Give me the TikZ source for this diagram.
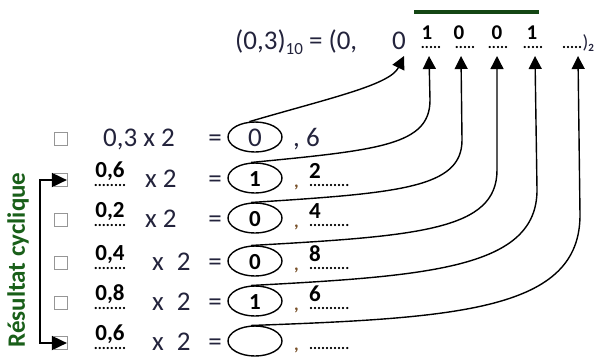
\documentclass[tikz,border=0pt]{standalone}
\usepackage{fontspec}
\setmainfont{Carlito}
\usetikzlibrary{arrows.meta,shapes.geometric}
\definecolor{ink}{RGB}{35,35,60}
\definecolor{dgreen}{RGB}{25,95,25}
\definecolor{bargreen}{RGB}{20,70,20}
\definecolor{boxgray}{RGB}{150,150,150}
\definecolor{commabrown}{RGB}{120,80,40}
\tikzset{
  txt/.style={inner sep=0pt, font=\fontsize{27}{29}\selectfont, text=ink},
  bnum/.style={inner sep=0pt, font=\fontsize{23}{24}\selectfont\bfseries, text=black},
  tnum/.style={inner sep=0pt, font=\fontsize{21}{22}\selectfont\bfseries, text=black},
  dotline/.style={inner sep=0pt, font=\fontsize{15}{16}\selectfont\bfseries, text=black},
  oval/.style={ellipse, draw=black, line width=1.4pt, minimum width=54pt, minimum height=30pt, inner sep=0pt},
  cbox/.style={draw=boxgray, line width=0.8pt, minimum size=13pt, inner sep=0pt},
  link/.style={draw=black, line width=1.4pt, -{Triangle[length=13pt,width=13pt]}},
  bracket/.style={draw=black, line width=1.8pt, {Triangle[length=15pt,width=14pt]}-{Triangle[length=15pt,width=14pt]}},
}
\begin{document}
\begin{tikzpicture}[x=1pt,y=-1pt]
\useasboundingbox (0,0) rectangle (604,360);
\fill[white] (0,0) rectangle (604,360);
% top line
\node[txt, anchor=base west] (eq) at (235,49) {(0,3)\raisebox{-5pt}{\fontsize{17}{17}\selectfont 10} = (0,};
\node[txt, anchor=base] (z0) at (399,49) {0};
\node[dotline, anchor=base] (s1) at (431,48) {.....};
\node[dotline, anchor=base] (s2) at (465,48) {.....};
\node[dotline, anchor=base] (s3) at (498,48) {.....};
\node[dotline, anchor=base] (s4) at (533,48) {.....};
\node[dotline, anchor=base west] (s5) at (562,48) {.....};
\node[txt, anchor=base west, font=\fontsize{19}{19}\selectfont] (cl) at (s5.base east) {)\raisebox{-3pt}{\fontsize{11}{11}\selectfont\bfseries 2}};
\node[tnum, anchor=base] (d1) at (427,39) {1};
\node[tnum, anchor=base] (d2) at (459,39) {0};
\node[tnum, anchor=base] (d3) at (497,39) {0};
\node[tnum, anchor=base] (d4) at (532,39) {1};
\draw[bargreen, line width=4pt] ([xshift=-7pt,yshift=13pt]d1.north west) -- ([xshift=1pt,yshift=13pt]d4.north east);
% arrow tips
\coordinate (t1) at (404,56);
\coordinate (t2) at (429,56);
\coordinate (t3) at (461,56);
\coordinate (t4) at (497,56);
\coordinate (t5) at (535,56);
\coordinate (t6) at (578,56);
% rows: baselines 146,187,227,270,310,350
\foreach \b/\i in {146/1,187/2,227/3,270/4,310/5,350/6}{
  \node[cbox] (cb\i) at (61,\b-7) {};
  \node[txt, anchor=base] (eqs\i) at (215,\b) {=};
  \node[oval] (e\i) at (255,\b-9) {};
}
\node[txt, anchor=base west] (l1) at (103,146) {0,3 x 2};
\node[txt, anchor=base, text=ink] at (e1.center |- 0,146) {0};
\node[txt, anchor=base west] (r1) at (293,146) {, 6};
% rows 2-6 left
\foreach \b/\i/\v in {187/2/{0,6},227/3/{0,2},270/4/{0,4},310/5/{0,8},350/6/{0,6}}{
  \node[dotline, anchor=base] (ld\i) at (110,\b-1) {........};
  \node[bnum, anchor=base] (lv\i) at (110,\b-10) {\v};
  \node[txt, anchor=base west, font=\fontsize{18}{18}\selectfont\bfseries, text=commabrown] (cm\i) at (294,\b) {,};
  \node[dotline, anchor=base west] (rd\i) at (309,\b-1) {..........};
}
\node[txt, anchor=base west] (x2) at (145,187) {x 2};
\node[txt, anchor=base west] (x3) at (145,227) {x 2};
\node[txt, anchor=base west] (x4) at (152,270) {x\hspace{13pt}2};
\node[txt, anchor=base west] (x5) at (152,310) {x\hspace{13pt}2};
\node[txt, anchor=base west] (x6) at (152,350) {x\hspace{13pt}2};
% ellipse digits
\node[bnum, anchor=base] at (e2.center |- 0,186) {1};
\node[bnum, anchor=base] at (e3.center |- 0,226) {0};
\node[bnum, anchor=base] at (e4.center |- 0,269) {0};
\node[bnum, anchor=base] at (e5.center |- 0,309) {1};
% right digits
\node[bnum, anchor=base] (rv2) at (315,178) {2};
\node[bnum, anchor=base] (rv3) at (315,218) {4};
\node[bnum, anchor=base] (rv4) at (315,261) {8};
\node[bnum, anchor=base] (rv5) at (315,301) {6};
% bracket
\draw[bracket] ([xshift=-1pt]cb2.east) -- ++(-27,0) |- ([xshift=-1pt]cb6.east);
\node[rotate=90, font=\fontsize{25}{25}\selectfont\bfseries, text=dgreen, inner sep=0pt] (cyc) at (18,260) {Résultat cyclique};
% connectors
\draw[link] (e1.110) .. controls (330,98) and (390,85) .. (t1);
\draw[link] (e2.105) .. controls (380,150) and (430,145) .. (430,100) -- (t2);
\draw[link] (e3.105) .. controls (400,193) and (462,188) .. (462,140) -- (t3);
\draw[link] (e4.105) .. controls (420,236) and (497,230) .. (497,170) -- (t4);
\draw[link] (e5.105) .. controls (430,276) and (537,268) .. (537,190) -- (t5);
\draw[link] (e6.105) .. controls (460,318) and (580,310) .. (580,215) -- (t6);
\end{tikzpicture}
\end{document}
